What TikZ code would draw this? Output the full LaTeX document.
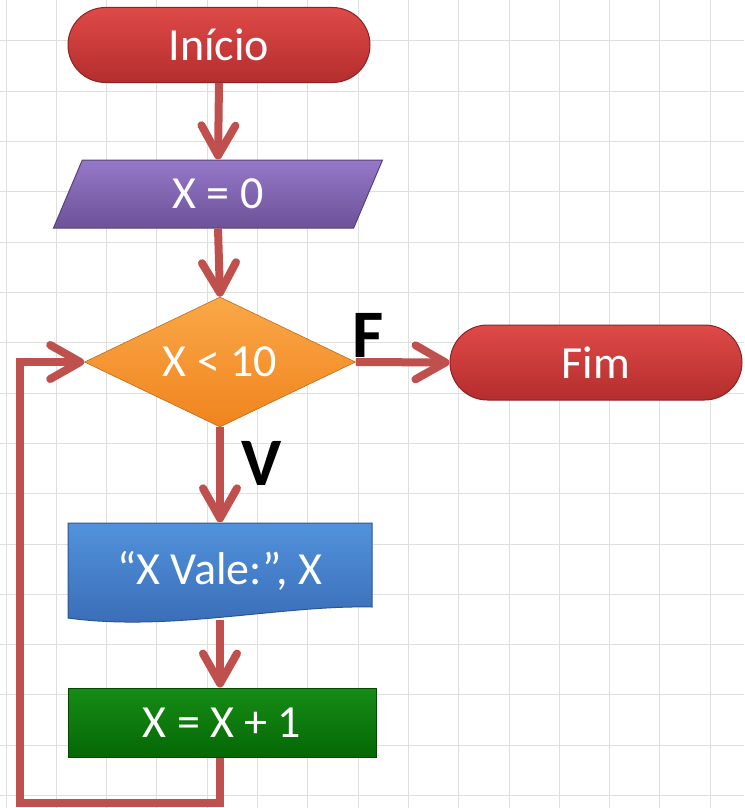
\documentclass[tikz,border=0pt]{standalone}
\usepackage{fontspec}
\setmainfont{Carlito}
\usepackage{tikz}
\usetikzlibrary{arrows.meta, shapes.geometric, calc}
\usepackage{xcolor}
\definecolor{vermelhoseta}{RGB}{192,80,77}
\definecolor{termtopo}{RGB}{222,74,72}
\definecolor{termbase}{RGB}{180,45,45}
\definecolor{termborda}{RGB}{140,35,35}
\definecolor{roxotopo}{RGB}{150,120,200}
\definecolor{roxobase}{RGB}{108,82,152}
\definecolor{laranjatopo}{RGB}{250,168,72}
\definecolor{laranjabase}{RGB}{240,132,30}
\definecolor{azultopo}{RGB}{82,146,220}
\definecolor{azulbase}{RGB}{56,106,180}
\definecolor{verdetopo}{RGB}{22,140,22}
\definecolor{verdebase}{RGB}{5,104,5}
\definecolor{grade}{RGB}{222,224,222}

\begin{document}
\begin{tikzpicture}[x=1pt, y=-1pt,
  texto/.style={text=white, font=\fontsize{46}{50}\selectfont, inner sep=0pt},
  terminal/.style={texto, rectangle, rounded corners=37.5pt, minimum height=75pt,
    draw=termborda, line width=1pt, top color=termtopo, bottom color=termbase},
  rotulo/.style={font=\fontsize{68}{70}\selectfont\bfseries, inner sep=0pt},
  fluxo/.style={line width=8pt, draw=vermelhoseta,
    -{Straight Barb[length=30pt, width=34pt, round]}}]
  \useasboundingbox (0,0) rectangle (744,808);
  \fill[white] (0,0) rectangle (744,808);
  % grade de fundo
  \foreach \k in {0,...,14}{
    \draw[grade, line width=1pt] (6+50.3*\k,0) -- (6+50.3*\k,808);
  }
  \foreach \k in {0,...,15}{
    \draw[grade, line width=1pt] (0,41+50.3*\k) -- (744,41+50.3*\k);
  }
  \node[terminal, minimum width=302pt] (inicio) at (219,45) {Início};
  \node[texto, trapezium, trapezium left angle=46.3, trapezium right angle=133.7,
    trapezium stretches body, minimum width=329pt, minimum height=68pt,
    draw=roxobase!80!black, line width=1pt, top color=roxotopo, bottom color=roxobase]
    (init) at (218,194) {X = 0};
  \node[texto, diamond, aspect=2, minimum width=271pt, minimum height=130pt,
    draw=laranjabase!80!black, line width=0.6pt, top color=laranjatopo, bottom color=laranjabase]
    (cond) at (220,362) {X < 10};
  \node[terminal, minimum width=292pt] (fim) at (596,362.5) {Fim};
  % documento de saida
  \shade[top color=azultopo, bottom color=azulbase, draw=azulbase!80!black, line width=1pt]
    (68,523) -- (372,523) -- (372,607) .. controls (280,605) and (170,632) .. (68,618) -- cycle;
  \node[texto, minimum width=304pt, minimum height=97pt] (saida) at (220,571) {“X Vale:”, X};
  \node[texto, rectangle, minimum width=308pt, minimum height=69pt,
    draw=verdebase!70!black, line width=1pt, top color=verdetopo, bottom color=verdebase]
    (incr) at (222,722.5) {X = X + 1};
  \node[rotulo] (falso) at (368,335) {F};
  \node[rotulo] (verdade) at (262,463) {V};
  \coordinate (canto) at (20,803);
  % conectores
  \draw[fluxo] (inicio.south) -- (init.north);
  \draw[fluxo] (init.south) -- (cond.north);
  \draw[fluxo] (cond.east) -- (fim.west);
  \draw[fluxo] (cond.south) -- (saida.north);
  \draw[fluxo] (saida.south) -- (saida.south |- incr.north);
  \draw[fluxo] (saida.south |- incr.south) |- (canto) |- (cond.west);
\end{tikzpicture}
\end{document}
